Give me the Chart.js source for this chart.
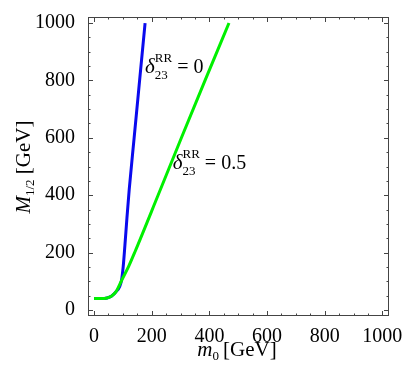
<!DOCTYPE html>
<html>
<head>
<meta charset="utf-8">
<script src="https://cdn.jsdelivr.net/npm/chart.js@4/dist/chart.umd.min.js"></script>
<style>
  html, body { margin: 0; padding: 0; background: #fff; }
  #wrap { width: 415px; height: 381px; }
</style>
</head>
<body>
<div id="wrap"><canvas id="chart"></canvas></div>
<script>
// ---- data (m0, M1/2 in GeV) ----
const blueM0  = [0, 25, 45, 60, 75, 95, 101, 107, 114, 122, 139, 158, 177];
const blueM12 = [40, 40, 42, 48, 62, 102, 150, 225, 320, 420, 600, 800, 1000];
const greenM0  = [0, 25, 45, 60, 75, 95, 120, 142, 221, 303, 385, 468];
const greenM12 = [40, 40, 42, 48, 62, 102, 152, 203, 397, 600, 800, 1000];
const tickValues = [0, 200, 400, 600, 800, 1000];

const SERIF = '"Liberation Serif", "DejaVu Serif", serif';

function pts(xs, ys) {
  return xs.map((x, i) => ({ x: x, y: ys[i] }));
}

// draw a run of text pieces: {t, size, italic, dy, stack}
function drawRich(ctx, x, y, parts, align) {
  let w = 0;
  const widths = parts.map(p => {
    ctx.font = (p.italic ? 'italic ' : '') + p.size + 'px ' + SERIF;
    return ctx.measureText(p.t).width;
  });
  parts.forEach((p, i) => { if (!p.stack) w += widths[i]; });
  let cx = align === 'center' ? x - w / 2 : x;
  let lastX = cx;
  parts.forEach((p, i) => {
    ctx.font = (p.italic ? 'italic ' : '') + p.size + 'px ' + SERIF;
    const px = p.stack ? lastX : cx;
    ctx.fillText(p.t, px, y + (p.dy || 0));
    if (!p.stack) { lastX = cx; cx += widths[i]; }
  });
}

const framePlugin = {
  id: 'frame',
  afterDatasetsDraw(chart) {
    const ctx = chart.ctx;
    const a = chart.chartArea;
    const xs = chart.scales.x, ys = chart.scales.y;
    ctx.save();
    ctx.strokeStyle = '#444';
    ctx.lineWidth = 1;
    ctx.strokeRect(a.left + 0.5, a.top + 0.5, a.right - a.left - 1, a.bottom - a.top - 1);
    // inward ticks on all four sides
    ctx.beginPath();
    for (let v = 0; v <= 1000; v += 50) {
      const len = v % 200 === 0 ? 5 : 2.5;
      const px = Math.round(xs.getPixelForValue(v)) + 0.5;
      ctx.moveTo(px, a.bottom); ctx.lineTo(px, a.bottom - len);
      ctx.moveTo(px, a.top); ctx.lineTo(px, a.top + len);
      const py = Math.round(ys.getPixelForValue(v)) + 0.5;
      ctx.moveTo(a.left, py); ctx.lineTo(a.left + len, py);
      ctx.moveTo(a.right, py); ctx.lineTo(a.right - len, py);
    }
    ctx.stroke();

    ctx.fillStyle = '#000';
    ctx.textBaseline = 'alphabetic';
    ctx.textAlign = 'left';
    // curve labels
    drawRich(ctx, xs.getPixelForValue(177), ys.getPixelForValue(826), [
      { t: 'δ', size: 21, italic: true },
      { t: 'RR', size: 13, dy: -11 },
      { t: '23', size: 13, dy: 6, stack: true },
      { t: ' = 0', size: 20 }
    ]);
    drawRich(ctx, xs.getPixelForValue(273), ys.getPixelForValue(490), [
      { t: 'δ', size: 21, italic: true },
      { t: 'RR', size: 13, dy: -11 },
      { t: '23', size: 13, dy: 6, stack: true },
      { t: ' = 0.5', size: 20 }
    ]);

    // axis titles
    drawRich(ctx, 237, 356, [
      { t: 'm', size: 21, italic: true },
      { t: '0', size: 13, dy: 4 },
      { t: '\u2009[GeV]', size: 21 }
    ], 'center');
    ctx.translate(30, 167);
    ctx.rotate(-Math.PI / 2);
    drawRich(ctx, 0, 0, [
      { t: 'M', size: 21, italic: true },
      { t: '1/2', size: 13, dy: 4 },
      { t: ' [GeV]', size: 21 }
    ], 'center');
    ctx.restore();
  }
};

const axisCommon = {
  type: 'linear',
  grid: { display: false },
  border: { display: false },
  afterBuildTicks(scale) { scale.ticks = tickValues.map(v => ({ value: v })); }
};
const tickFont = { family: SERIF, size: 20 };

new Chart(document.getElementById('chart'), {
  type: 'scatter',
  data: {
    datasets: [
      {
        label: 'delta = 0.5',
        data: pts(greenM0, greenM12),
        showLine: true,
        borderColor: '#00f000',
        borderWidth: 3,
        pointRadius: 0,
        cubicInterpolationMode: 'monotone',
        order: 0
      },
      {
        label: 'delta = 0',
        data: pts(blueM0, blueM12),
        showLine: true,
        borderColor: '#0a0aee',
        borderWidth: 3,
        pointRadius: 0,
        cubicInterpolationMode: 'monotone',
        order: 1
      }
    ]
  },
  options: {
    responsive: true,
    maintainAspectRatio: false,
    animation: false,
    layout: { padding: { left: 0, top: 15, right: 26, bottom: 0 } },
    plugins: { legend: { display: false }, tooltip: { enabled: false } },
    scales: {
      x: Object.assign({}, axisCommon, {
        min: -21, max: 1023,
        ticks: { color: '#000', font: tickFont, padding: 1, maxRotation: 0, callback: v => String(v) },
        afterFit(scale) { scale.height = 65; }
      }),
      y: Object.assign({}, axisCommon, {
        min: -21, max: 1021,
        ticks: { color: '#000', font: tickFont, padding: 5, callback: v => String(v) },
        afterFit(scale) { scale.width = 88; }
      })
    }
  },
  plugins: [framePlugin]
});
</script>
</body>
</html>
